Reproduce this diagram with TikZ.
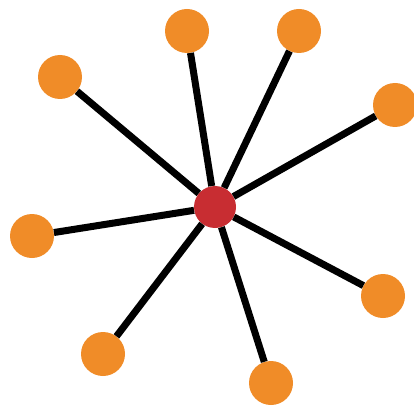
\documentclass[tikz,border=0pt]{standalone}
\definecolor{orangenode}{RGB}{240,140,40}
\definecolor{rednode}{RGB}{200,45,50}
\begin{document}
\begin{tikzpicture}[x=1pt,y=-1pt,
  leaf/.style={circle,fill=orangenode,minimum size=44pt,inner sep=0pt},
  hub/.style={circle,fill=rednode,minimum size=42pt,inner sep=0pt},
  spoke/.style={line width=7pt,black}]
\useasboundingbox (0,0) rectangle (414,414);
\node[hub] (c) at (215,207) {};
\node[leaf] (n1) at (60,77) {};
\node[leaf] (n2) at (187,31) {};
\node[leaf] (n3) at (299,31) {};
\node[leaf] (n4) at (395,105) {};
\node[leaf] (n5) at (32,236) {};
\node[leaf] (n6) at (383,296) {};
\node[leaf] (n7) at (103,354) {};
\node[leaf] (n8) at (271,383) {};
\foreach \n in {n1,n2,n3,n4,n5,n6,n7,n8}
  \draw[spoke] (c) -- (\n);
\end{tikzpicture}
\end{document}
